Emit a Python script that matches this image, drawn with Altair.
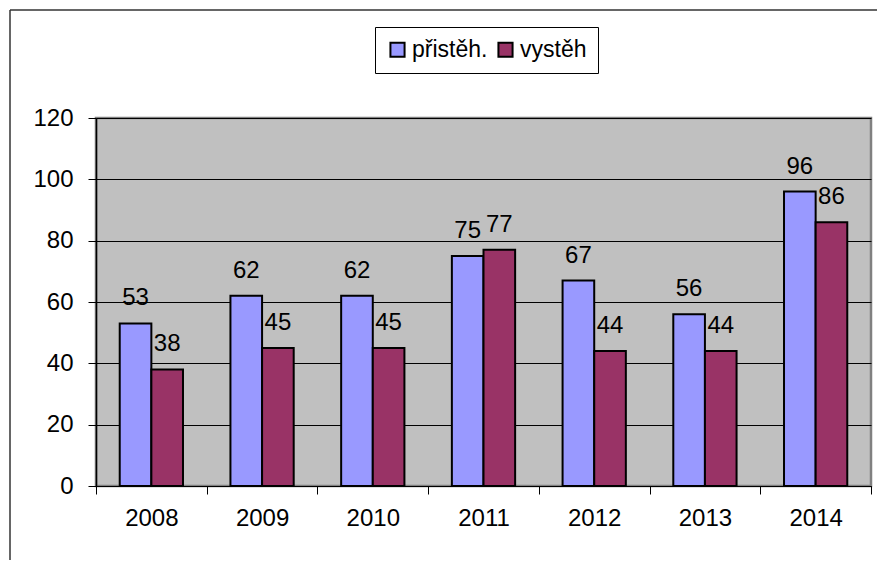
import altair as alt
import pandas as pd

years = ["2008", "2009", "2010", "2011", "2012", "2013", "2014"]
series = ["přistěh.", "vystěh"]
prist = [53, 62, 62, 75, 67, 56, 96]
vyst = [38, 45, 45, 77, 44, 44, 86]
colors = ["#9999FF", "#993366"]
y_ticks = [0, 20, 40, 60, 80, 100, 120]

rows = []
for i, y in enumerate(years):
    rows.append({"year": y, "series": series[0], "value": prist[i]})
    rows.append({"year": y, "series": series[1], "value": vyst[i]})
df = pd.DataFrame(rows)

FONT = "Liberation Sans"

x_enc = alt.X(
    "year:N",
    sort=years,
    title=None,
    scale=alt.Scale(paddingInner=0, paddingOuter=0),
    axis=alt.Axis(
        labelAngle=0,
        tickBand="extent",
        tickSize=8,
        tickColor="black",
        domainColor="black",
        labelPadding=12,
        labelFontSize=24,
        labelFont=FONT,
        labelColor="black",
        grid=False,
    ),
)
xoff = alt.XOffset(
    "series:N",
    sort=series,
    scale=alt.Scale(paddingInner=0, paddingOuter=0.75),
)
y_enc = alt.Y(
    "value:Q",
    title=None,
    scale=alt.Scale(domain=[0, 120], nice=False),
    axis=alt.Axis(
        values=y_ticks,
        tickSize=8,
        tickColor="black",
        domainColor="black",
        domainWidth=1.5,
        gridColor="black",
        gridWidth=1,
        labelPadding=15,
        labelFontSize=24,
        labelFont=FONT,
        labelColor="black",
    ),
)

base = alt.Chart(df)

bars = base.mark_bar(stroke="black", strokeWidth=2).encode(
    x=x_enc,
    xOffset=xoff,
    y=y_enc,
    color=alt.Color(
        "series:N",
        sort=series,
        scale=alt.Scale(domain=series, range=colors),
        legend=alt.Legend(
            title=None,
            orient="none",
            direction="horizontal",
            legendX=279,
            legendY=-91,
            symbolType="square",
            symbolSize=200,
            symbolStrokeColor="black",
            symbolStrokeWidth=2,
            symbolOpacity=1,
            labelFontSize=23,
            labelFont=FONT,
            labelColor="black",
            labelOffset=3,
            columnPadding=6,
            strokeColor="black",
            padding=11,
            labelLimit=300,
        ),
    ),
)

labels = base.mark_text(
    baseline="alphabetic", dy=-18, fontSize=24, font=FONT, color="black"
).encode(
    x=alt.X("year:N", sort=years),
    xOffset=alt.XOffset("series:N", sort=series),
    y=alt.Y("value:Q"),
    text=alt.Text("value:Q"),
)

frame_top = alt.Chart(pd.DataFrame({"a": [0]})).mark_rule(
    color="#333333", strokeWidth=1.5
).encode(x=alt.value(-86), x2=alt.value(800), y=alt.value(-108))
frame_left = alt.Chart(pd.DataFrame({"a": [0]})).mark_rule(
    color="#333333", strokeWidth=1.5
).encode(x=alt.value(-86), y=alt.value(-108), y2=alt.value(460))

chart = (
    alt.layer(bars, labels, frame_top, frame_left)
    .properties(
        width=775,
        height=368,
        autosize=alt.AutoSizeParams(type="none"),
        padding={"left": 88, "top": 110, "right": 6, "bottom": 74},
        background="white",
    )
    .configure_view(fill="#C0C0C0", stroke="#808080", strokeWidth=2.5)
)

chart.save("out.html", embed_options={"renderer": "svg", "actions": False})
